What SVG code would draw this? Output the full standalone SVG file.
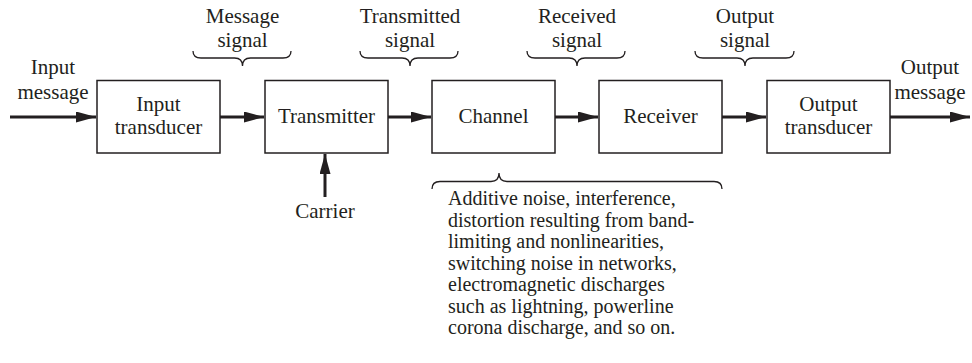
<svg xmlns="http://www.w3.org/2000/svg" width="972" height="363" viewBox="0 0 972 363">
<style>
text{font-family:"Liberation Serif","Times New Roman",serif;font-size:21px;fill:#231f20}
.c{text-anchor:middle}
.p{font-size:20px}
.box{fill:#fff;stroke:#231f20;stroke-width:1.5}
.arr{stroke:#231f20;stroke-width:3;fill:none}
.br{stroke:#231f20;stroke-width:1.3;fill:none}
</style>
<defs>
<marker id="ah" markerUnits="userSpaceOnUse" markerWidth="22" markerHeight="12" refX="20" refY="5.5" orient="auto">
<path d="M0,0 L20,5.5 L0,11 Z" fill="#231f20"/>
</marker>
</defs>
<rect width="972" height="363" fill="#fff"/>
<g id="connectors">
<line class="arr" x1="10" y1="117" x2="96" y2="117" marker-end="url(#ah)"/>
<line class="arr" x1="220" y1="117" x2="264" y2="117" marker-end="url(#ah)"/>
<line class="arr" x1="388" y1="117" x2="431" y2="117" marker-end="url(#ah)"/>
<line class="arr" x1="555" y1="117" x2="598" y2="117" marker-end="url(#ah)"/>
<line class="arr" x1="722" y1="117" x2="766" y2="117" marker-end="url(#ah)"/>
<line class="arr" x1="890" y1="117" x2="970" y2="117" marker-end="url(#ah)"/>
<line class="arr" x1="325" y1="197" x2="325" y2="154" marker-end="url(#ah)"/>
</g>
<g id="input-transducer"><rect class="box" x="97" y="80.5" width="123" height="72.5"/><text class="c" x="158.5" y="111">Input</text><text class="c" x="158.5" y="134">transducer</text></g>
<g id="transmitter"><rect class="box" x="265" y="80.5" width="123" height="72.5"/><text class="c" x="326.5" y="123">Transmitter</text></g>
<g id="channel"><rect class="box" x="432" y="80.5" width="123" height="72.5"/><text class="c" x="493.5" y="123">Channel</text></g>
<g id="receiver"><rect class="box" x="599" y="80.5" width="123" height="72.5"/><text class="c" x="660.5" y="123">Receiver</text></g>
<g id="output-transducer"><rect class="box" x="767" y="80.5" width="123" height="72.5"/><text class="c" x="828.5" y="111">Output</text><text class="c" x="828.5" y="134">transducer</text></g>
<g id="input-message"><text class="c" x="53" y="74">Input</text><text class="c" x="53" y="99">message</text></g>
<g id="output-message"><text class="c" x="930" y="74">Output</text><text class="c" x="930" y="99">message</text></g>
<g id="carrier"><text class="c" x="325" y="218">Carrier</text></g>
<g id="message-signal"><text class="c" x="242.5" y="23">Message</text><text class="c" x="242.5" y="47">signal</text>
<path class="br" d="M193,51 Q193,58 201,58 L234.5,58 Q242.5,58 242.5,66 Q242.5,58 250.5,58 L283,58 Q291,58 291,51"/></g>
<g id="transmitted-signal"><text class="c" x="410" y="23">Transmitted</text><text class="c" x="410" y="47">signal</text>
<path class="br" d="M360,51 Q360,58 368,58 L402,58 Q410,58 410,66 Q410,58 418,58 L450,58 Q458,58 458,51"/></g>
<g id="received-signal"><text class="c" x="577" y="23">Received</text><text class="c" x="577" y="47">signal</text>
<path class="br" d="M527,51 Q527,58 535,58 L569,58 Q577,58 577,66 Q577,58 585,58 L617,58 Q625,58 625,51"/></g>
<g id="output-signal"><text class="c" x="745" y="23">Output</text><text class="c" x="745" y="47">signal</text>
<path class="br" d="M695,51 Q695,58 703,58 L737,58 Q745,58 745,66 Q745,58 753,58 L786,58 Q794,58 794,51"/></g>
<g id="channel-impairments">
<path class="br" d="M432,189 Q432,181.5 440,181.5 L491,181.5 Q499,181.5 499,173 Q499,181.5 507,181.5 L714,181.5 Q722,181.5 722,189"/>
<text class="p" x="448" y="205">Additive noise, interference,</text>
<text class="p" x="448" y="226.5">distortion resulting from band-</text>
<text class="p" x="448" y="248">limiting and nonlinearities,</text>
<text class="p" x="448" y="269.5">switching noise in networks,</text>
<text class="p" x="448" y="291">electromagnetic discharges</text>
<text class="p" x="448" y="312.5">such as lightning, powerline</text>
<text class="p" x="448" y="334">corona discharge, and so on.</text>
</g>
</svg>
